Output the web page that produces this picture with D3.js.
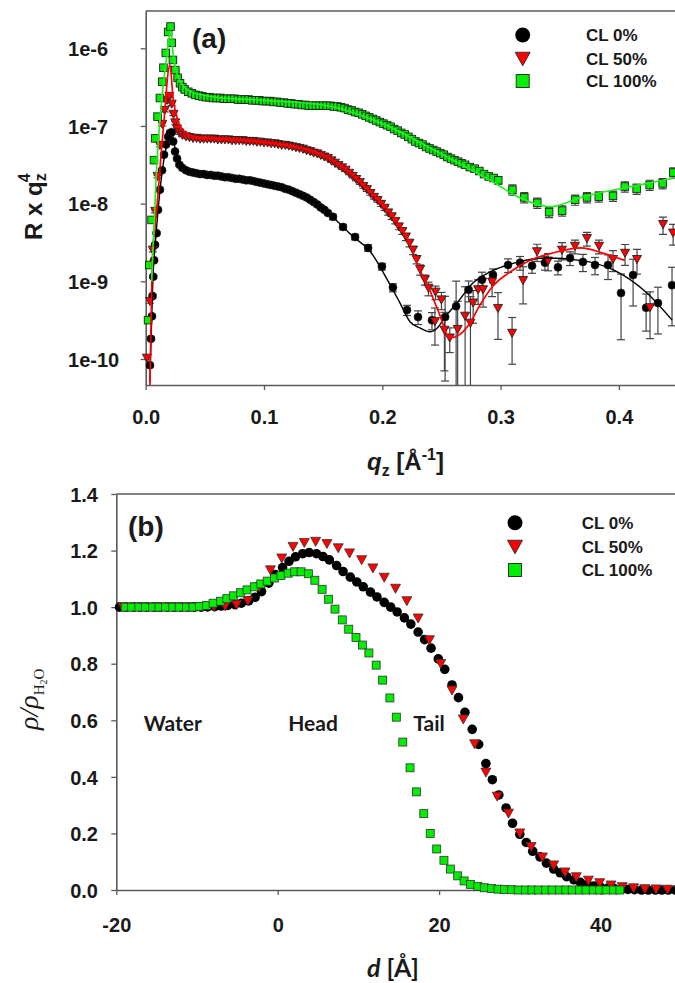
<!DOCTYPE html>
<html><head><meta charset="utf-8">
<script src="https://cdn.jsdelivr.net/npm/d3@7/dist/d3.min.js"></script>
<style>body{margin:0;background:#fff}svg{display:block}</style>
</head><body>
<svg id="c" width="675" height="983"></svg>
<script>
// ---------- Panel (a): reflectivity, [q (1/Å), log10(R*q^4), relative error] ----------
const cl0Refl = [
[0.0036,-10.08,0.05],[0.0045,-9.74,0.05],[0.0053,-9.45,0.05],[0.0058,-9.19,0.05],[0.0064,-8.94,0.04],[0.0071,-8.73,0.04],[0.0079,-8.53,0.04],[0.0092,-8.38,0.04],[0.0104,-8.08,0.04],[0.012,-7.82,0.04],[0.0138,-7.57,0.04],[0.0155,-7.37,0.04],[0.0172,-7.24,0.04],[0.019,-7.14,0.04],[0.0205,-7.09,0.04],[0.022,-7.08,0.04],[0.0232,-7.2,0.04],[0.0248,-7.33,0.04],[0.0265,-7.42,0.04],[0.0285,-7.5,0.04],
[0.031,-7.54,0.04],[0.034,-7.57,0.04],[0.037,-7.59,0.04],[0.040,-7.60,0.04],[0.043,-7.61,0.04],[0.046,-7.62,0.04],[0.049,-7.62,0.04],[0.052,-7.63,0.04],[0.055,-7.63,0.04],[0.058,-7.64,0.04],[0.061,-7.64,0.04],[0.064,-7.65,0.04],[0.067,-7.66,0.04],[0.070,-7.66,0.04],[0.073,-7.67,0.04],[0.076,-7.68,0.04],[0.079,-7.68,0.04],[0.082,-7.69,0.04],[0.085,-7.70,0.04],[0.088,-7.70,0.04],[0.091,-7.71,0.04],[0.094,-7.72,0.04],[0.097,-7.73,0.04],[0.100,-7.74,0.04],[0.103,-7.75,0.04],[0.106,-7.76,0.04],[0.109,-7.77,0.04],[0.112,-7.78,0.04],[0.115,-7.79,0.04],[0.118,-7.81,0.04],[0.121,-7.82,0.04],[0.124,-7.84,0.04],[0.127,-7.86,0.04],[0.130,-7.88,0.04],[0.133,-7.90,0.04],[0.136,-7.92,0.04],[0.139,-7.95,0.05],[0.142,-7.98,0.05],[0.145,-8.01,0.05],[0.148,-8.05,0.05],[0.151,-8.08,0.05],[0.154,-8.12,0.05],
[0.1583,-8.17,0.08],[0.1668,-8.30,0.08],[0.1770,-8.43,0.08],[0.1880,-8.57,0.1],[0.1997,-8.81,0.1],[0.2090,-9.08,0.12],[0.2209,-9.37,0.15],[0.2302,-9.46,0.2],[0.2420,-9.50,0.25],[0.2531,-9.46,0.85],[0.2624,-9.32,1.1],[0.2730,-9.11,0.3],[0.2843,-8.98,0.25],[0.2936,-8.92,0.2],[0.3063,-8.79,0.2],[0.3164,-8.76,0.2],[0.3266,-8.80,0.2],[0.3375,-8.76,0.2],[0.3485,-8.82,0.2],[0.3587,-8.70,0.2],[0.3696,-8.75,0.25],[0.3798,-8.79,0.25],[0.3908,-8.79,0.35],[0.4018,-9.15,0.75],[0.4120,-8.92,0.6],[0.4230,-9.34,0.5],[0.4330,-9.28,0.6],[0.4449,-9.05,0.7]
];
const cl50Refl = [
[0.0010,-9.99,0.05],[0.0036,-9.26,0.05],[0.0060,-8.60,0.05],[0.0080,-8.10,0.04],[0.0100,-7.65,0.04],[0.0120,-7.25,0.04],[0.0140,-6.98,0.04],[0.0160,-6.80,0.04],[0.0180,-6.67,0.04],[0.0200,-6.62,0.04],[0.0220,-6.72,0.04],[0.0235,-6.85,0.04],[0.0250,-6.96,0.04],[0.0265,-7.04,0.04],[0.0285,-7.09,0.04],
[0.031,-7.12,0.04],[0.034,-7.14,0.04],[0.037,-7.15,0.04],[0.040,-7.16,0.04],[0.043,-7.16,0.04],[0.046,-7.17,0.04],[0.049,-7.17,0.04],[0.052,-7.17,0.04],[0.055,-7.17,0.04],[0.058,-7.17,0.04],[0.061,-7.18,0.04],[0.064,-7.18,0.04],[0.067,-7.18,0.04],[0.070,-7.18,0.04],[0.073,-7.19,0.04],[0.076,-7.19,0.04],[0.079,-7.19,0.04],[0.082,-7.19,0.04],[0.085,-7.20,0.04],[0.088,-7.20,0.04],[0.091,-7.20,0.04],[0.094,-7.21,0.04],[0.097,-7.21,0.04],[0.100,-7.22,0.04],[0.103,-7.22,0.04],[0.106,-7.23,0.04],[0.109,-7.23,0.04],[0.112,-7.24,0.04],[0.115,-7.25,0.04],[0.118,-7.25,0.04],[0.121,-7.26,0.04],[0.124,-7.27,0.04],[0.127,-7.28,0.04],[0.130,-7.29,0.04],[0.133,-7.30,0.04],[0.136,-7.32,0.04],[0.139,-7.33,0.04],[0.142,-7.35,0.04],[0.145,-7.36,0.04],[0.148,-7.38,0.04],[0.151,-7.40,0.04],[0.154,-7.42,0.04],[0.157,-7.45,0.04],[0.160,-7.48,0.04],[0.163,-7.51,0.04],[0.166,-7.54,0.04],[0.169,-7.57,0.04],[0.172,-7.61,0.04],[0.175,-7.65,0.04],[0.178,-7.69,0.04],[0.181,-7.73,0.05],[0.184,-7.78,0.05],[0.187,-7.82,0.05],[0.190,-7.87,0.05],[0.193,-7.92,0.05],[0.196,-7.96,0.05],[0.199,-8.01,0.06],[0.202,-8.06,0.06],[0.205,-8.12,0.06],[0.208,-8.17,0.07],[0.211,-8.23,0.07],[0.214,-8.30,0.08],[0.217,-8.36,0.08],[0.220,-8.43,0.1],[0.223,-8.51,0.1],[0.226,-8.60,0.12],[0.229,-8.72,0.12],[0.232,-8.85,0.15],[0.236,-8.98,0.15],[0.239,-9.09,0.2],[0.245,-9.14,0.2],[0.250,-9.24,0.25],
[0.2445,-9.52,0.5],[0.2525,-9.63,0.7],[0.2570,-9.73,0.35],[0.2637,-9.62,1.3],[0.2700,-9.45,1.4],[0.2745,-9.54,1.2],[0.2768,-9.28,0.45],[0.2810,-9.11,0.35],[0.2852,-9.11,0.4],[0.2928,-9.01,0.35],[0.2978,-9.35,0.6],[0.3097,-9.67,0.6],[0.3190,-8.99,0.5],[0.3308,-8.62,0.25],[0.3401,-8.74,0.25],[0.3519,-8.60,0.25],[0.3629,-8.55,0.2],[0.3730,-8.45,0.2],[0.3832,-8.55,0.2],[0.3950,-8.72,0.3],[0.4052,-8.64,0.3],[0.4153,-8.72,0.35],[0.4263,-9.34,0.6],[0.4373,-8.27,0.25],[0.4458,-8.38,0.3]
];
const cl100Refl = [
[0.002,-9.50,0.05],[0.003,-8.79,0.05],[0.005,-8.21,0.04],[0.007,-7.44,0.04],[0.008,-7.16,0.04],[0.010,-6.88,0.04],[0.012,-6.64,0.04],[0.014,-6.43,0.04],[0.015,-6.25,0.04],[0.017,-6.06,0.04],[0.019,-5.79,0.04],[0.021,-5.72,0.04],[0.022,-5.93,0.04],[0.023,-6.15,0.04],[0.025,-6.28,0.04],[0.027,-6.38,0.04],[0.029,-6.45,0.04],[0.031,-6.50,0.04],[0.033,-6.53,0.04],[0.036,-6.56,0.04],[0.039,-6.58,0.04],[0.042,-6.60,0.04],[0.045,-6.61,0.04],[0.048,-6.62,0.04],[0.051,-6.63,0.04],[0.054,-6.63,0.04],[0.057,-6.64,0.04],[0.060,-6.64,0.04],[0.063,-6.64,0.04],[0.066,-6.65,0.04],[0.069,-6.65,0.04],[0.072,-6.65,0.04],[0.075,-6.65,0.04],[0.078,-6.66,0.04],[0.081,-6.66,0.04],[0.084,-6.66,0.04],[0.087,-6.66,0.04],[0.090,-6.67,0.04],[0.093,-6.67,0.04],[0.096,-6.67,0.04],[0.099,-6.68,0.04],[0.102,-6.68,0.04],[0.105,-6.68,0.04],[0.108,-6.69,0.04],[0.111,-6.69,0.04],[0.114,-6.70,0.04],[0.117,-6.70,0.04],[0.120,-6.71,0.04],[0.123,-6.71,0.04],[0.126,-6.72,0.04],[0.129,-6.72,0.04],[0.132,-6.73,0.04],[0.135,-6.73,0.04],[0.138,-6.74,0.04],[0.141,-6.74,0.04],[0.144,-6.74,0.04],[0.147,-6.74,0.04],[0.150,-6.74,0.04],[0.153,-6.74,0.04],[0.156,-6.74,0.04],[0.159,-6.75,0.04],[0.162,-6.75,0.04],[0.165,-6.76,0.04],[0.168,-6.77,0.04],[0.171,-6.79,0.04],[0.174,-6.80,0.04],[0.177,-6.82,0.04],[0.180,-6.83,0.04],[0.183,-6.85,0.04],[0.186,-6.87,0.04],[0.189,-6.89,0.04],[0.192,-6.91,0.04],[0.195,-6.93,0.04],[0.198,-6.95,0.04],[0.201,-6.97,0.04],[0.204,-6.99,0.04],[0.207,-7.01,0.04],[0.210,-7.04,0.04],[0.213,-7.06,0.04],[0.216,-7.09,0.04],[0.219,-7.11,0.04],[0.222,-7.14,0.05],[0.225,-7.17,0.05],[0.228,-7.20,0.05],[0.231,-7.22,0.05],[0.234,-7.24,0.05],[0.237,-7.27,0.05],[0.240,-7.29,0.05],[0.243,-7.31,0.05],[0.246,-7.33,0.05],[0.249,-7.35,0.05],[0.252,-7.37,0.06],[0.255,-7.40,0.06],[0.258,-7.42,0.06],[0.261,-7.44,0.06],[0.264,-7.46,0.06],[0.267,-7.48,0.06],[0.270,-7.50,0.07],[0.274,-7.53,0.07],[0.278,-7.55,0.07],[0.282,-7.58,0.08],[0.286,-7.62,0.08],[0.290,-7.65,0.08],[0.294,-7.67,0.08],[0.298,-7.70,0.1],
[0.310,-7.82,0.15],[0.320,-7.92,0.15],[0.331,-7.99,0.15],[0.341,-8.11,0.15],[0.352,-8.09,0.15],[0.363,-7.95,0.15],[0.373,-7.92,0.15],[0.383,-7.91,0.15],[0.395,-7.90,0.15],[0.405,-7.78,0.15],[0.415,-7.81,0.15],[0.426,-7.76,0.15],[0.437,-7.74,0.15],[0.446,-7.60,0.15]
];
// fitted curves [q, log10(R*q^4)]
const cl0Fit = [[0.0035,-10.3],[0.006,-9.0],[0.009,-8.35],[0.013,-7.7],[0.017,-7.3],[0.0205,-7.12],[0.022,-7.08],[0.025,-7.3],[0.03,-7.5],[0.04,-7.6],[0.07,-7.66],[0.1,-7.74],[0.13,-7.88],[0.155,-8.13],[0.175,-8.42],[0.19,-8.62],[0.205,-9.0],[0.215,-9.28],[0.2234,-9.52],[0.2318,-9.60],[0.2403,-9.65],[0.2465,-9.6],[0.253,-9.46],[0.2631,-9.28],[0.2768,-9.02],[0.291,-8.88],[0.3105,-8.77],[0.339,-8.70],[0.367,-8.73],[0.395,-8.85],[0.4237,-9.15],[0.445,-9.5]];
const cl50Fit = [[0.0035,-10.4],[0.006,-8.6],[0.008,-8.3],[0.0146,-7.09],[0.0205,-6.21],[0.023,-6.62],[0.028,-6.96],[0.035,-7.10],[0.045,-7.15],[0.07,-7.17],[0.10,-7.21],[0.13,-7.28],[0.15,-7.37],[0.17,-7.57],[0.19,-7.85],[0.21,-8.18],[0.222,-8.47],[0.231,-8.83],[0.240,-9.11],[0.248,-9.41],[0.257,-9.73],[0.265,-9.69],[0.274,-9.54],[0.282,-9.32],[0.293,-9.07],[0.308,-8.88],[0.325,-8.73],[0.348,-8.62],[0.368,-8.57],[0.387,-8.64],[0.405,-8.73]];
const cl100Fit = [[0.005,-9.0],[0.009,-7.6],[0.013,-6.75],[0.017,-6.2],[0.020,-5.85],[0.0215,-5.78],[0.023,-6.05],[0.026,-6.3],[0.030,-6.45],[0.04,-6.57],[0.06,-6.63],[0.10,-6.67],[0.15,-6.73],[0.20,-6.97],[0.25,-7.36],[0.29,-7.69],[0.32,-7.95],[0.342,-8.04],[0.37,-7.91],[0.41,-7.78],[0.447,-7.67]];
const qTicks = [0.0, 0.1, 0.2, 0.3, 0.4];
const rTicks = [1e-10, 1e-9, 1e-8, 1e-7, 1e-6];

// ---------- Panel (b): density profiles [d (Å), rho/rho_H2O] ----------
const cl0Profile = [[-19.6,1],[-18.8,1],[-17.9,1],[-17.1,1],[-16.2,1],[-15.4,1],[-14.6,1],[-13.7,1],[-12.9,1],[-12.0,1],[-11.2,1],[-10.4,1],[-9.5,1],[-8.7,1.001],[-7.8,1.002],[-7.0,1.004],[-6.2,1.006],[-5.3,1.009],[-4.5,1.014],[-3.6,1.022],[-2.8,1.035],[-2.0,1.055],[-1.1,1.085],[-0.3,1.115],[0.6,1.140],[1.4,1.162],[2.2,1.178],[3.1,1.189],[3.9,1.193],[4.8,1.189],[5.6,1.179],[6.4,1.167],[7.3,1.147],[8.1,1.126],[9.0,1.106],[9.8,1.089],[10.6,1.072],[11.5,1.053],[12.3,1.036],[13.2,1.017],[14.0,1.000],[14.8,0.983],[15.7,0.962],[16.5,0.940],[17.4,0.912],[18.2,0.885],[19.0,0.855],[19.9,0.817],[20.7,0.780],[21.6,0.725],[22.4,0.680],[23.2,0.628],[24.1,0.568],[24.9,0.515],[25.8,0.447],[26.6,0.390],[27.4,0.336],[28.3,0.290],[29.1,0.236],[30.0,0.197],[30.8,0.168],[31.6,0.137],[32.5,0.117],[33.3,0.095],[34.2,0.074],[35.0,0.061],[35.8,0.047],[36.7,0.036],[37.5,0.027],[38.4,0.020],[39.2,0.014],[40.0,0.010],[40.9,0.007],[41.7,0.005],[42.6,0.003],[43.4,0.002],[44.2,0.001],[45.1,0],[45.9,0],[46.8,0],[47.6,0],[48.4,0],[49.3,0],[50.1,0]];
const cl50Profile = [[-19.2,1],[-17.8,1],[-16.4,1],[-15.0,1],[-13.6,1],[-12.1,1],[-10.7,1],[-9.3,1],[-7.9,1.001],[-6.5,1.003],[-5.1,1.008],[-3.7,1.022],[-2.3,1.07],[-0.9,1.13],[0.5,1.172],[1.9,1.213],[3.3,1.227],[4.7,1.231],[6.1,1.223],[7.5,1.208],[8.9,1.19],[10.4,1.166],[11.8,1.137],[13.2,1.104],[14.6,1.065],[16.0,1.021],[17.4,0.96],[18.8,0.883],[20.2,0.799],[21.6,0.705],[23.0,0.603],[24.4,0.515],[25.8,0.415],[27.2,0.33],[28.6,0.27],[30.0,0.2],[31.4,0.152],[32.8,0.115],[34.2,0.087],[35.6,0.062],[37.0,0.045],[38.5,0.033],[39.9,0.024],[41.3,0.016],[42.7,0.010],[44.1,0.006],[45.5,0.003],[46.9,0.002],[48.3,0.001],[49.7,0]];
const cl100Profile = [[-18.9,1],[-18.1,1],[-17.2,1],[-16.4,1],[-15.5,1],[-14.7,1],[-13.9,1],[-13.0,1],[-12.2,1],[-11.3,1],[-10.5,1],[-9.7,1.002],[-8.8,1.006],[-8.0,1.014],[-7.1,1.021],[-6.3,1.030],[-5.5,1.040],[-4.6,1.051],[-3.8,1.061],[-2.9,1.072],[-2.1,1.082],[-1.3,1.092],[-0.4,1.103],[0.4,1.112],[1.3,1.120],[2.1,1.125],[2.9,1.125],[3.8,1.118],[4.6,1.095],[5.5,1.063],[6.3,1.028],[7.1,0.993],[8.0,0.955],[8.8,0.922],[9.7,0.893],[10.5,0.866],[11.3,0.838],[12.2,0.795],[13.0,0.742],[13.9,0.679],[14.7,0.611],[15.5,0.523],[16.4,0.432],[17.2,0.347],[18.1,0.270],[18.9,0.200],[19.7,0.145],[20.6,0.105],[21.4,0.074],[22.3,0.050],[23.1,0.032],[23.9,0.020],[24.8,0.013],[25.6,0.008],[26.5,0.005],[27.3,0.003],[28.1,0.002],[29.0,0.001],[29.8,0],[30.7,0],[31.5,0],[32.3,0],[33.2,0],[34.0,0],[34.9,0],[35.7,0],[36.5,0],[37.4,0],[38.2,0],[39.1,0],[39.9,0],[40.7,0],[41.6,0],[42.4,0]];
const dTicks = [-20, 0, 20, 40];
const rhoTicks = [0, 0.2, 0.4, 0.6, 0.8, 1.0, 1.2, 1.4];

const seriesNames = ["CL 0%", "CL 50%", "CL 100%"];
const regionLabels = [["Water", -16.6], ["Head", 1.3], ["Tail", 16.8]];

// ---------- drawing ----------
const SANS = "'Liberation Sans', Arial, sans-serif";
const CAL = "Lato, 'Open Sans', sans-serif";
const SERIF = "'Liberation Serif', 'Times New Roman', serif";
const TXT = "#1a1a1a", AX = "#5a5a5a";
const COL = {black:"#000000", red:"#ff0000", green:"#00ee00"};
const svg = d3.select("#c");
const defs = svg.append("defs");

const pow10 = v => Math.pow(10, v);
const xA = d3.scaleLinear().domain([0, 0.45]).range([145.7, 678.05]);
const yA = d3.scaleLog().domain([pow10(-10.335), pow10(-5.52)]).range([385, 11]);
const xB = d3.scaleLinear().domain([-20, 50]).range([116.3, 681.2]);
const yB = d3.scaleLinear().domain([0, 1.4]).range([890, 494]);

defs.append("clipPath").attr("id","clipA").append("rect")
  .attr("x", xA.range()[0]).attr("y", yA.range()[1]).attr("width", 675 - xA.range()[0]).attr("height", yA.range()[0] - yA.range()[1]);

function triPath(s){ const h = s*0.9; return `M${-s/2},${-h/2}L${s/2},${-h/2}L0,${h/2}Z`; }
function styleAxis(g, fs){
  g.attr("font-family", SANS).attr("font-size", fs).attr("font-weight","bold");
  g.select(".domain").attr("stroke", AX).attr("stroke-width", 1.6);
  g.selectAll(".tick line").attr("stroke", AX).attr("stroke-width", 1.3);
  g.selectAll(".tick text").attr("fill", TXT);
}

// ---- Panel (a) axes ----
const gA = svg.append("g");
gA.append("line").attr("x1", xA.range()[0]).attr("x2", 675).attr("y1", yA.range()[1]).attr("y2", yA.range()[1]).attr("stroke", AX).attr("stroke-width", 1.6);
gA.append("g").attr("transform", `translate(0,${yA.range()[0]})`)
  .call(d3.axisBottom(xA).tickValues(qTicks).tickFormat(d3.format(".1f")).tickSize(5).tickSizeOuter(0))
  .call(g => { styleAxis(g, 20); g.selectAll(".tick text").attr("y", 39).attr("dy", null); });
gA.append("g").attr("transform", `translate(${xA.range()[0]},0)`)
  .call(d3.axisLeft(yA).tickValues(rTicks).tickFormat(d => "1e" + Math.round(Math.log10(d))).tickSize(5).tickSizeOuter(0))
  .call(g => { styleAxis(g, 20); g.selectAll(".tick text").attr("text-anchor","start").attr("x", 68 - xA.range()[0]).attr("dy","0.36em"); });

// error bars
const errG = gA.append("g").attr("clip-path","url(#clipA)");
function errBars(data){
  const yMin = yA.domain()[0], bottom = yA.range()[0];
  data.forEach(([q, lg, f]) => {
    const R = pow10(lg), hi = R*(1+f), lo = R*(1-f);
    const x = xA(q), yt = yA(hi), yb = lo > yMin ? yA(lo) : bottom + 5;
    errG.append("line").attr("x1", x).attr("x2", x).attr("y1", yt).attr("y2", yb).attr("stroke","#444").attr("stroke-width",1.2);
    errG.append("line").attr("x1", x-4).attr("x2", x+4).attr("y1", yt).attr("y2", yt).attr("stroke","#444").attr("stroke-width",1.2);
    if (lo > yMin) errG.append("line").attr("x1", x-4).attr("x2", x+4).attr("y1", yb).attr("y2", yb).attr("stroke","#444").attr("stroke-width",1.2);
  });
}
errBars(cl0Refl); errBars(cl50Refl); errBars(cl100Refl);

const mA = gA.append("g");
mA.selectAll(".b").data(cl0Refl).join("circle")
  .attr("cx", d => xA(d[0])).attr("cy", d => yA(pow10(d[1]))).attr("r", 4)
  .attr("fill", COL.black).attr("stroke","#222").attr("stroke-width",0.6);
mA.selectAll(".r").data(cl50Refl).join("path")
  .attr("d", triPath(9)).attr("transform", d => `translate(${xA(d[0])},${yA(pow10(d[1]))})`)
  .attr("fill", COL.red).attr("stroke","#222").attr("stroke-width",0.9);
mA.selectAll(".g").data(cl100Refl).join("rect")
  .attr("x", d => xA(d[0]) - 3.8).attr("y", d => yA(pow10(d[1])) - 3.8).attr("width", 7.6).attr("height", 7.6)
  .attr("fill", COL.green).attr("stroke","#222").attr("stroke-width",0.9);

const lineA = d3.line().x(d => xA(d[0])).y(d => yA(pow10(d[1]))).curve(d3.curveMonotoneX);
const fitG = gA.append("g").attr("clip-path","url(#clipA)").attr("fill","none");
fitG.append("path").attr("d", lineA(cl0Fit)).attr("stroke", COL.black).attr("stroke-width", 1.4);
fitG.append("path").attr("d", lineA(cl50Fit)).attr("stroke", COL.red).attr("stroke-width", 1.7);
fitG.append("path").attr("d", lineA(cl100Fit)).attr("stroke", "#22ee22").attr("stroke-width", 1.7);

// labels (a)
svg.append("text").attr("x", 192).attr("y", 48).attr("font-family", SANS).attr("font-weight","bold").attr("font-size", 28).attr("fill", TXT).text("(a)");
const ytA = svg.append("text").attr("transform","translate(42,240) rotate(-90)").attr("font-family", SANS).attr("font-weight","bold").attr("font-size", 24).attr("fill", TXT);
ytA.append("tspan").text("R x q");
ytA.append("tspan").attr("font-size", 16).attr("dy", 4).text("z");
ytA.append("tspan").attr("font-size", 16).attr("dx", -9).attr("dy", -16).text("4");
const xtA = svg.append("text").attr("x", 367).attr("y", 470).attr("font-family", SANS).attr("font-weight","bold").attr("font-size", 24).attr("fill", TXT);
xtA.append("tspan").attr("font-style","italic").text("q");
xtA.append("tspan").attr("font-size", 16).attr("dy", 6).text("z");
xtA.append("tspan").attr("dy", -6).text(" [Å");
xtA.append("tspan").attr("font-size", 16).attr("dy", -10).text("-1");
xtA.append("tspan").attr("dy", 10).text("]");

// legend helper
function legend(x0, tx, ys){
  const g = svg.append("g");
  g.append("circle").attr("cx", x0).attr("cy", ys[0]).attr("r", 7.5).attr("fill", COL.black);
  g.append("path").attr("d", triPath(15)).attr("transform", `translate(${x0},${ys[1]})`).attr("fill", COL.red).attr("stroke","#333").attr("stroke-width",1);
  g.append("rect").attr("x", x0-6.5).attr("y", ys[2]-6.5).attr("width", 13).attr("height", 13).attr("fill", COL.green).attr("stroke","#333").attr("stroke-width",1);
  seriesNames.forEach((n,i) => g.append("text").attr("x", tx).attr("y", ys[i]).attr("dy","0.35em")
    .attr("font-family", SANS).attr("font-weight","bold").attr("font-size", 17).attr("fill", TXT).text(n));
}
legend(522.7, 586, [35, 59, 81]);

// ---- Panel (b) ----
const gB = svg.append("g");
gB.append("line").attr("x1", xB.range()[0]).attr("x2", 675).attr("y1", yB.range()[1]).attr("y2", yB.range()[1]).attr("stroke", AX).attr("stroke-width", 1.6);
gB.append("g").attr("transform", `translate(0,${yB.range()[0]})`)
  .call(d3.axisBottom(xB).tickValues(dTicks).tickFormat(d => String(d)).tickSize(5).tickSizeOuter(0))
  .call(g => { styleAxis(g, 20); g.selectAll(".tick text").attr("y", 42).attr("dy", null); });
gB.append("g").attr("transform", `translate(${xB.range()[0]},0)`)
  .call(d3.axisLeft(yB).tickValues(rhoTicks).tickFormat(d3.format(".1f")).tickSize(5).tickSizeOuter(0))
  .call(g => { styleAxis(g, 20); g.selectAll(".tick text").attr("x", 98 - xB.range()[0]).attr("dy","0.36em"); });

const mB = gB.append("g");
mB.selectAll("circle").data(cl0Profile).join("circle")
  .attr("cx", d => xB(d[0])).attr("cy", d => yB(d[1])).attr("r", 4.8).attr("fill", COL.black);
mB.selectAll("path").data(cl50Profile).join("path")
  .attr("d", triPath(10)).attr("transform", d => `translate(${xB(d[0])},${yB(d[1])})`)
  .attr("fill", COL.red).attr("stroke","#333").attr("stroke-width",0.8);
mB.selectAll("rect").data(cl100Profile).join("rect")
  .attr("x", d => xB(d[0]) - 4).attr("y", d => yB(d[1]) - 4).attr("width", 8).attr("height", 8)
  .attr("fill", COL.green).attr("stroke","#333").attr("stroke-width",0.8);

svg.append("text").attr("x", 128).attr("y", 536).attr("font-family", SANS).attr("font-weight","bold").attr("font-size", 28).attr("fill", TXT).text("(b)");
regionLabels.forEach(([t, d]) => svg.append("text").attr("x", xB(d)).attr("y", 731)
  .attr("font-family", CAL).attr("font-weight","bold").attr("font-size", 21).attr("fill", TXT).text(t));
legend(515, 581.7, [522.7, 547, 570]);

const xtB = svg.append("text").attr("x", 367).attr("y", 977).attr("font-family", CAL).attr("font-weight","bold").attr("font-size", 25).attr("fill", TXT);
xtB.append("tspan").attr("font-style","italic").text("d");
xtB.append("tspan").text(" [Å]");
const ytB = svg.append("text").attr("transform","translate(38,730) rotate(-90)").attr("font-family", SERIF).attr("font-size", 28).attr("fill", TXT);
ytB.append("tspan").attr("font-style","italic").text("ρ/ρ");
ytB.append("tspan").attr("font-size", 15).attr("dy", 6).text("H");
ytB.append("tspan").attr("font-size", 10).attr("dy", 3).text("2");
ytB.append("tspan").attr("font-size", 15).attr("dy", -3).text("O");
</script>
</body></html>
